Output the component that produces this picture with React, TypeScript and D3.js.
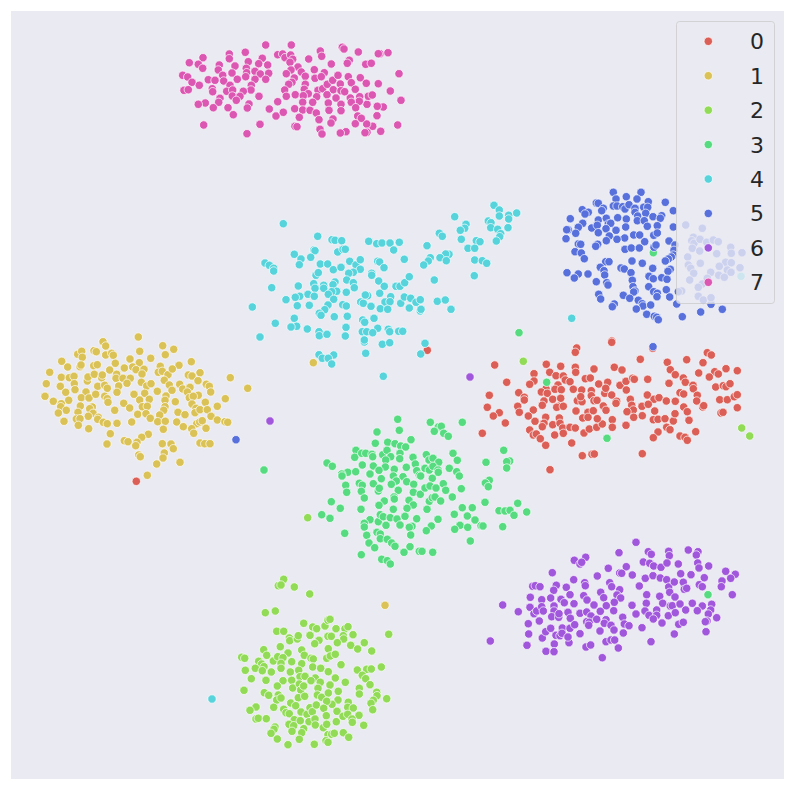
import React from 'react';
import * as d3 from 'd3';

type Pt = [number, number];

// values, the plot has no axes so the units are arbitrary
const class0: Pt[] = [
  [576.7,348],[575.3,352.3],[611.7,341],[611.7,342.3],[652.7,348.3],[494.7,365],[546.3,364.3],[560.7,366.3],[575.3,367.3],[575.7,372.3],[594,369],[614.3,367.3],[622,370],[640.3,359.3],[667.3,362.3],[670.3,369.7],[675.3,374.7],[686.7,359.7],[707.3,352.7],[711.3,355],[703,362.7],[698.7,373],[714.7,371.7],[718.3,374],[709.3,377],[726,368.7],[737.3,370.7],
  [534,373.7],[534,381],[529.7,384.3],[549.7,372.3],[556,375.7],[563.3,376],[565.3,380],[570,381.7],[558,385],[555,389.3],[561.3,389.7],[546,388.7],[541.3,392],[547.3,393.3],[506.7,382.3],[518.7,392.7],[524.3,397.3],[524.3,400],[489.3,395.3],[487.3,407.3],[517.7,406.3],[519.3,412.3],[499.3,412.7],[493.3,416],[505.3,423],[482.3,433.3],
  [552.7,399.3],[560.7,398.3],[544,401],[542.3,405.3],[533.3,410],[528.3,416],[558.3,406.3],[556.7,407.3],[563.3,406.3],[535,421.3],[545.7,417.3],[544,423.3],[542.3,426.7],[552.7,424.7],[559.3,418],[560,423.3],[529.7,430],[533.3,435],[536.3,434],[540.3,438.7],[545.7,445.3],[554.7,435],[562.7,428],[563.3,433.3],[570,427.3],[575.3,428],[571.7,443],[584,433],[589.3,429],[596.7,427.3],[602.3,424],[612.3,419.7],[612.3,427.3],[626,425.3],[582.3,455.7],[592,454.3],[594.3,454],[642.3,453.7],[550,469.7],
  [585.3,378.7],[590.3,378],[598.7,384],[607.7,382.3],[573.3,389.3],[581.7,390],[591.3,390.7],[591.3,395.7],[604.7,393.3],[605.7,388.3],[611.7,395],[577.3,400.7],[582,401.7],[580.7,396.7],[594,400.7],[597,400.3],[576,411],[588,412.3],[593.3,410.7],[582.7,418],[588,417.3],[597.3,418.7],[603.3,406],[606,410.3],[616.7,401.3],[616,403.3],[620,385.3],[626,381.3],[626.3,390],[632.7,378.3],[634.3,379.3],[647.7,379.3],[669,383.3],[683.3,378],[685.3,382.3],[693,385.3],[693.3,388.7],
  [647.3,395],[654,399.3],[659,397.7],[630.3,399.3],[631.7,405.3],[633.3,410],[627,411.7],[633.7,417.3],[642,406.3],[648.3,404.3],[642.3,415.7],[654.7,411],[653.3,419.7],[658,419.3],[665,418.7],[673.3,421],[675,413.7],[666.3,401],[675.3,401.3],[680,392.7],[683.7,394],[683.7,407],[687.3,411.7],[689,420.3],[697.3,395.3],[696.7,401],[702.7,407],[703.7,405.7],[666.7,427.3],[670,429.7],[658,432],[653.3,437.7],[680,436],[685,437.3],[687.3,440.3],[695.7,431.7],[715.7,387],[723.3,385.7],[726,386.7],[730,383.7],[719.7,399.7],[727.3,399.7],[734.3,396.7],[737.3,394.7],[737.3,407.7],[721,413],[723,412.3],
  [427.3,350.3],[136.3,481.3],
];

const class1: Pt[] = [
  [103,341.7],[105.7,346],[138.3,337],[162.7,345.7],[173.7,349.3],[139.7,351.3],[165.3,354.7],[150.7,358.3],[130,359],[139.3,362.7],[191.3,361.7],[77.7,354.3],[81.7,351.3],[82.3,357.3],[94,350.7],[96.3,351.7],[105.7,355],[111.7,353.3],[113.3,355.3],[61.7,361.3],[67.7,367],[49.7,372.3],[80,366.7],[81,365],[93.7,365.7],[97.3,364.7],[115.3,363.3],[109.7,370],[124.3,368],[132.7,367],[136,369.7],[144,369.3],[142,374],[160.3,366.3],[158.3,372.3],[162.3,371.3],[168,374.7],[179,365.3],[172.3,369],[200,372.7],[188.3,375],[192,376],[198,380.7],[230.3,377.7],[247.7,388.3],
  [61.3,377.3],[69.3,377.7],[74,376.3],[46.3,383.7],[60.3,386.3],[74.3,383.7],[75,389.7],[65.7,392.3],[87.3,381],[88,377],[94.3,374.3],[101.7,377.7],[102.3,375],[97.7,386.3],[104.7,385.3],[107.3,388.3],[116.7,374.3],[116,378.3],[123,378.3],[130.3,378.3],[118.7,386],[127,383.3],[117,392.3],[141.3,382.3],[146.7,386],[151,383.7],[164.3,380.3],[169.3,385],[172,390.3],[157.3,391.3],[179.7,384.3],[182.7,389],[190,387.3],[187.3,392],[206.3,384.3],[209.3,386.3],[210.7,392],[198.3,395.3],
  [45,396.3],[53.3,401.3],[68.7,400.3],[61.3,403.7],[60.7,406.7],[66.3,410.3],[58.3,413],[64,421.3],[86,392],[81.3,397.7],[89,398],[95.7,394.3],[104.7,396.3],[107.3,398.7],[108,402.3],[80.3,406],[92.3,407],[89.7,408.7],[78,412.3],[93,413.3],[88.3,416.3],[76.3,419],[80,418.7],[78.3,425.3],[88.7,428.7],[98.3,417.3],[97.7,419.3],[103.3,422.3],[107.3,423.7],[117,423.3],[114.7,410.3],[123.7,403.3],[129.7,408],[134,394.3],[144.7,393.3],[139.7,400],[149.3,399.3],[142.3,406.7],[147.3,406.3],[137.7,414.3],[146,413.7],[150.3,418.3],[131.7,422],
  [166,396],[165,400.3],[165,406.7],[163.7,410.3],[159.7,415],[157.7,421.7],[165.3,421.3],[163.3,429.3],[175.3,401.7],[178,412.3],[185,414.7],[176.7,422],[183.3,426.7],[189.3,397.7],[193.3,396.3],[192,404],[196,408.3],[195,412.7],[200,409.7],[205.3,402.3],[207.3,409.7],[217.3,406.3],[225.3,398.7],[211,416.3],[217.3,420],[225,421.7],[227.7,422.3],[196.7,423.7],[199.7,422],[202.3,420.7],[191.7,428.7],[193.7,433.3],[206,428.3],
  [110.3,433.7],[107,444],[148.3,434.3],[141.7,437.3],[124.3,440.7],[128,441.7],[137,442.3],[135.7,445.7],[162.3,443.7],[171,444],[173.3,448.7],[164.3,453],[163,458],[138.7,455],[140.3,456.7],[156.7,464],[180,462.3],[147.3,475.3],[200,443],[204.7,443.7],[210,443.7],
  [313.3,362.7],[385,605.3],
];

const class2: Pt[] = [
  [283.7,579.3],[278.3,585.7],[281,585],[294.3,587],[309.7,594],[265.3,612.7],[275.3,611],[388.7,634.3],[303.7,623.3],[312.7,627],[316.7,628.7],[325,626],[328,620.3],[330,619.3],[336,628.7],[345,628.7],[348,626.7],[353,634.7],[343.3,635.7],[343.7,639],[328,636.3],[331.3,636.3],[337.3,642.7],[350.7,645.3],[357.7,649],[364.3,642.7],[371.7,651],[276.7,631.3],[283.7,631.3],[289.3,638],[289.7,640.7],[297.3,639],[298.3,635.7],[310,635.3],[319,640.3],[314.7,643.7],[328.3,648.7],[280.3,646.7],[301.7,650],[263.7,649.7],[288,653],[266.7,655.3],[304.3,655.3],[311,658.3],[313.3,659],[326.7,658.3],[330.3,656],[335.3,654.3],
  [241.7,657.3],[244.7,658.3],[258.7,661.3],[261.7,664],[264,666.7],[273.3,661],[277.7,656.7],[283,657.7],[281,663.3],[281,668.3],[291.7,661.7],[301.7,663.7],[341,664.7],[255.3,668.3],[245.3,670.3],[262.3,670.7],[271.3,672],[290.3,672],[298.7,670.3],[312.7,667],[320.7,668.3],[328.3,671.7],[357.3,670],[366.7,669.3],[371.3,669],[381.3,667],[251.3,678.7],[266,680.3],[283,680.7],[291.7,680.3],[300,676.7],[305,676.3],[315.3,678],[311,680.7],[320.3,682.3],[335.3,678],[362.3,675.3],[365.7,678.7],[345.3,682.3],[370,684.7],[277.3,686],[292.7,688],[299.3,684],[300.7,690],[303.7,686],[330,685],[318,688.3],
  [244,690.3],[264.3,692.7],[268.7,695.3],[278.3,695],[276.7,700],[281,698],[298.3,697.7],[304.7,696.3],[317.3,695],[321.7,697.3],[328.3,693],[338.3,691.3],[338,700],[332,704.3],[326.7,701.3],[359.3,688.3],[359.3,694],[376.7,692.3],[377,695.7],[386.7,698.7],[373.3,700.3],[371,703.3],[372.7,709.7],[348.3,702.3],[347.7,707.3],[353.3,708],[273.7,707.3],[256,707],[250,710.3],[290.7,703],[295.7,705.7],[283.7,709.3],[286,712.7],[289.3,713.7],[301,712],[307,714.3],[310,707.7],[312.3,711.7],[316.3,705],[323.7,708.3],[337,711.3],[326.3,715.7],[343,716.3],[347.7,714.3],[359,715.3],[352,719],[352.3,722.3],[336.3,721.7],[363.7,725.3],
  [256,719],[258.3,718.3],[266.3,718.7],[294.3,719.7],[300.3,720.7],[309,721.7],[315,719],[289,724.3],[293.7,725.7],[315.3,725],[323.3,727.7],[326.7,724.3],[275,727],[274,729.3],[271,733.3],[292,731.3],[303.7,728.7],[301.7,732.7],[277.3,739],[288,744.7],[299.3,739.3],[314.3,744.3],[328,734.7],[331.7,734.3],[334.3,733.3],[343.3,732.7],[348.7,737.3],[326,740.7],[328,742.3],
  [307.7,517.7],[523.3,361.3],[741.7,428],[749.7,436],
];

const class3: Pt[] = [
  [397.7,419.3],[430.3,422.3],[462.3,422.3],[438.3,427],[441.3,426.3],[434.3,431.3],[443.7,433.3],[448.3,436.3],[399.3,430.3],[377,432],[411,439.7],[375.3,443.3],[387.7,442.3],[395,443.7],[400.7,446],[405.7,447],[356,450.3],[354.7,457.3],[361.7,453.3],[365.7,453.3],[372,454.3],[372.7,456.7],[382.7,454.7],[387,450.3],[390.7,456.7],[400,453.3],[399.7,458.7],[385.7,460],[385.3,467],[413,457.3],[415.3,464],[426.3,454.7],[429,460],[433,458.3],[438.7,462.3],[453,453.3],[457.3,460.3],[327,463],[332.3,466.3],[362.3,465],[373.3,466],[379,470.3],[347.7,472.3],[355.7,471.7],[341.7,474],[342,476],[370,474],[394.3,469.3],[406.3,467.3],[416.7,470.7],[425,468.3],[429.3,470],[433,466.3],[438,470],[438.3,472.3],[449.3,468.3],[456.7,471.7],[459.3,476],[393.3,476],[403,476.7],[419.3,475.3],[420.7,476],[432.3,478.3],[486,462.3],[503.7,450.3],[509.7,461],[506.7,461.7],[506.7,468],
  [381.3,478.7],[373.3,483.7],[359.3,483.3],[362.3,485.3],[345.7,485.3],[346.7,492.3],[396.3,481],[391.3,484.3],[406.7,481.7],[413.7,484.3],[378.3,491],[379.3,488.3],[361.3,491.3],[364.3,498],[398.3,490.3],[413.3,492.3],[420.3,494.3],[425,488],[430,486],[436,488],[443.3,483.7],[445.7,490.3],[461.3,488.7],[452.3,497],[489.3,480.3],[485.3,483],[488.3,486.7],[384.3,501],[394,497],[394.3,499],[409,500.3],[413.3,505],[407,508.3],[429.3,501.3],[432.3,497.7],[435,497],[440.7,501],[485,502.3],[331.3,501.7],[340.3,508.3],[321.7,514.7],[330,518.3],[361,509.3],[379,505.3],[393.3,509.3],[427,509.3],[517.7,503.3],[462.3,507.7],[472.3,507.7],[454.3,514.3],[467.3,516],[475,520],[499,510.7],[505,511],[510,510.3],[514,515.3],[526.7,512],
  [370,519.7],[364.3,523.3],[364.3,527],[378.3,521.7],[380.3,514.7],[383.3,516.7],[390.3,517.7],[397,519],[405,516.3],[386,525.3],[400,525],[416.7,518.7],[438,519.3],[412,526.3],[409.3,527.3],[431.3,526],[426.3,530.7],[410.7,535],[344.7,533.3],[460,525.3],[454.7,529.3],[467.7,527.3],[481,525.7],[483,526],[502.7,526.7],[470.3,541],[366.7,535.3],[377,532.3],[380.3,534],[380.3,538.7],[387.3,539.3],[391.7,543],[395,546.3],[369,543],[374.7,547.7],[410,546.7],[404,552.3],[419.3,551.3],[422,551.3],[432.7,552.3],[361.3,554.7],[381.7,559.3],[387.3,560.7],[390.3,564],
  [519,332.7],[607,438.3],[546.7,382.3],[708,594.7],[264,470],[653.3,252.7],
];

const class4: Pt[] = [
  [283.3,223.7],[317.7,236.3],[332,239.7],[335,240.3],[341.7,240.7],[368.7,241.3],[376.7,243.7],[382,243],[390,243],[399.3,242.3],[393.7,250],[314,250],[315,250.7],[337.7,252],[343,249.3],[345.3,249.3],[294.3,254.3],[301,259],[310.7,257.3],[299.3,264.7],[320.3,264],[327.7,264],[333.3,269.7],[341,267.3],[349.7,261.3],[356,265],[360.3,259.7],[360.3,269.3],[353.3,272.3],[348.7,273.3],[377.7,261.3],[379.7,262],[384,267.7],[371.7,273.3],[371.7,275.3],[404.3,259.3],[265,263],[269.3,265.3],[273.7,268.3],[273.7,271],[316,275.3],[318.3,272.7],[346.7,280],[353.3,282.7],[354.3,287.7],[335,282],[333,284.7],[313.7,283.7],[323.7,285.3],[323.7,288.3],[315,288.3],[298.3,286],[271.7,287.7],
  [336.7,291.3],[331.7,291.7],[328.3,294.3],[346.3,292.3],[308,294.3],[314.3,296.3],[299.7,296.3],[295.3,297.3],[286,299.7],[333.7,299.3],[297.3,305.7],[309.3,305.3],[328,305],[324.7,309.7],[319.3,313.3],[321,315.3],[342.7,304.7],[346.3,306],[334.3,316.7],[347.3,316.3],[252.3,307],[294.3,318.3],[275.3,323.3],[296.7,326.3],[291,327],[307.3,329],[319,331.7],[319.3,335.7],[327,334.3],[346,327.3],[345.3,336],[260,337],[360.7,302],[363.3,303.3],[371,306.3],[367.7,295.7],[365.3,295],[379.7,293.3],[378.7,281],[384.3,286.3],[396,286.3],[400,286.3],[404.7,282.7],[409.3,276.7],[434.3,280],[390.7,296.7],[385,302],[390,301.7],[380.3,308.7],[387.7,309.3],[400.7,303.3],[404.3,297],[410.7,298.3],[409.3,308],[416,302.3],[420.3,299.7],[420.3,311],[421,309.3],[437.3,301.3],[445.3,300],[451,309.3],
  [374,318.3],[362.7,320],[364.7,322.3],[377.7,328.3],[362.3,331.7],[366.7,331.7],[372.7,332.7],[388.3,329.3],[389.7,331.7],[398.7,331.3],[402.7,331.3],[364.3,342],[364.3,340],[382.3,344.3],[389.7,342.7],[425,343.3],[420.7,354],[365.7,353.3],[319,354.7],[322.3,358.3],[333.7,355],[328.3,358.3],[331.7,364],[383.3,376.3],
  [427,245.7],[439.3,233.3],[442.3,236.3],[454.7,216.7],[466,224.3],[464.7,228.3],[460.3,230.3],[461.3,239.3],[476.3,240.7],[480,241.7],[468,248.3],[474.7,248.3],[449,254.3],[445.7,254],[440,257.7],[446.3,260.7],[430.3,257.7],[428.3,261],[423.7,265],[474.7,260],[482.3,260.7],[486.7,263.3],[474.3,275.7],[494,205.3],[499.3,210],[499.3,216],[508.7,215.3],[508.7,219],[516.7,213],[488.3,221],[491,222.7],[490.7,227.7],[497.7,229.3],[500.7,233.7],[499.7,236.7],[508,227.7],[496.3,241],
  [741,276.3],[571.7,318.3],[212,699],
];

const class5: Pt[] = [
  [613.3,192.3],[641,192.3],[626.3,196.7],[616,199],[637,199],[665.3,202.3],[648.3,201.7],[596.3,203],[598.3,203.3],[613.3,206],[617,206],[622.7,206.7],[625,209],[629,204.7],[635,208.3],[643.7,207.3],[647.7,207.3],[603.3,208.3],[601.7,210.7],[582.3,209.7],[588.3,212.3],[585,214],[673.3,210.7],[570.3,218.7],[635,212.3],[637.7,216],[645.7,213.3],[617.7,217.7],[626.3,219],[598.3,220],[606.3,218.3],[653,216.7],[661.7,215.7],[660.3,218.3],[637.3,220.7],[644.3,220.7],[647.3,226.3],[657.3,225.7],[582.7,223.3],[578.3,227.3],[591.7,228],[597.3,225.3],[608.3,224],[610.7,223.3],[606,228.7],[625.7,227],[616,230.3],[673.3,227],[568.3,229.7],[566.7,229.7],[575.7,233.3],[598.3,232.7],[609.3,236],[633.7,235],[639.7,235],[653.7,235.3],[657.3,233],[566,238.7],[624.7,238],[617,239.3],[606.3,240.7],[644.7,241.7],[669,241],
  [578.3,244],[580.7,244.3],[597.7,244.3],[595.7,246.3],[654,247.3],[656,245],[675,245],[625,249.3],[631.3,248],[639.3,248],[575,251.7],[581.3,253],[584.3,258.7],[674,250.3],[673.3,255],[671.3,257],[668.3,259],[665.3,261],[605.7,261.7],[609,261.7],[632,261],[642.3,263.3],[600.3,267.3],[604,270.7],[604.7,275],[621,268],[624.3,269],[631,272.7],[652.7,268.3],[670.3,269.3],[668,271.3],[567,272.7],[578.3,274],[574.3,278],[588,274],[649,276.3],[653.3,278.7],[661.7,277.7],[667,279.3],[632.3,280.3],[596.3,281.7],[606.7,282.7],[608,285],[633,286.7],[635,291],[633.7,292],[648.7,286.7],[653.7,291.7],[657.3,293.3],[657,296.7],[666.3,289.7],[669.7,297],[623.3,295.3],[629.7,298.3],[598.7,294.3],[600.7,299],[638.3,300.3],[642.3,303.7],[643,306],[650.7,305],[614.3,304],[612.3,306.7],[636.3,309],[676.7,304],[646.7,314.3],[654.3,316.3],[656.7,317.3],[658.3,319.7],
  [682.3,316.7],[700.7,312],[722.3,309.3],[711,304.3],
  [685.7,225],[702.3,228.3],[693.3,237.3],[691.7,240.7],[694,243.3],[700,239.3],[706.7,242.3],[713.3,240],[718.3,241.7],[692.3,248.3],[699.7,251],[730.7,247.3],[731.3,253.3],[742,252.7],[716.7,253.7],[687.7,257],[700.3,263.3],[725.7,262.3],[731.3,262.7],[719.3,266.3],[727.3,270],[740,267.7],[731,272.3],[688.3,265],[690.7,268.3],[693.7,273.3],[710.7,272.3],[718.7,275.3],[724.3,277.3],[689.7,280],[707.3,278.3],[702.3,284],[698.3,287.3],[681.7,291],[678.3,291.7],[698.3,296.3],[703.3,300],[711,297.7],
  [236,439.7],[653,346.7],
];

const class6: Pt[] = [
  [636,542.3],[619,552.7],[648.3,551.7],[651.3,554.3],[668.7,551.3],[669.3,555.7],[688.3,550],[698,551.7],[696.3,555],[585.7,557.3],[574.3,560.3],[580,564],[581.7,562.3],[643.3,562],[649.7,563.3],[653.7,566],[661,567.3],[667,563],[678.3,564],[697.7,563],[699,568],[708.7,566],[608.3,568.3],[626.3,566.7],[619.7,573],[621.7,573.3],[632.3,575],[552.3,572.7],[573.7,579.7],[597.3,576],[645.3,578.3],[653,575.7],[660.3,578],[666.7,579.7],[680.7,573.7],[691,574.7],[704.3,577.7],[725.7,571.3],[735.3,574.3],[730.7,578.3],[722,581],[721.3,586.7],[732.3,594.7],
  [532.7,586.3],[535.3,585.7],[540,586.7],[556.3,585.3],[553.7,590.3],[566.3,587.3],[584.7,582.7],[585.3,585.7],[609.7,582.7],[611.7,586.7],[639.3,586],[668.7,587],[674.3,582],[683.3,582.3],[684.3,589.3],[686.7,588.3],[699.3,584.7],[702.3,586.7],[530.3,597.3],[541.7,599.7],[550.7,598],[570,594.7],[561,599.3],[564.3,602.7],[574,603.7],[583.7,595.7],[587,600],[600.7,592.3],[603.7,597.7],[606.3,605.7],[619.7,589.7],[617,595],[620.7,598],[614.3,602.3],[646.7,594.7],[659.7,596.3],[669.7,592.3],[675,597],[646.3,603.3],[662.7,603.3],[670.3,606],[672.3,605.7],[680,604],[692.3,603.3],[685.7,610],[711.7,604.3],[702.3,606],[697.3,610.7],[710.7,610],[708.3,614],
  [502.7,605],[518.3,611.7],[530,607.3],[534,613.7],[536.7,611],[541.7,606.7],[543.3,611],[554,606],[554,611],[551.7,616.7],[558.7,617.3],[559,613.7],[568,612.3],[570.3,618.3],[580,613.3],[586.7,612],[594,605],[600.3,611.3],[591,616],[613.7,610.7],[622.7,617.3],[632,605.3],[636,614],[645,611],[649,615.3],[656.7,610],[656.7,615.3],[653.3,619],[668.3,615.7],[675.3,612.7],[662,623],[678.7,624.3],[683.3,622.3],[716.7,617.7],[707,621],[705.3,621.7],
  [528.3,623.7],[539.3,621],[528.7,634],[542.3,638],[545.7,631.7],[550.7,628.3],[527,645.3],[554.3,644],[546,651.3],[554,651.7],[569,642.7],[490.3,641],[562.3,628],[570,628.3],[574.7,624.7],[556,635.3],[560,635.7],[562,633.3],[568,637],[580,633.7],[586.7,621.7],[589.3,622.3],[588.7,625.3],[596.7,619.3],[606,619.7],[604.3,623.3],[600,631],[611,625.3],[614,630],[623.3,633],[624.3,624],[629,625.7],[642,627.7],[586,647],[590.7,645],[606,641.7],[611,640],[614.7,640],[618.3,648],[602.3,657.7],[651,641.7],[674.3,634],[706,631.7],
  [470,377],[270,421],
];

const class7: Pt[] = [
  [265.7,45],[291.3,45],[203,57.7],[189.3,62.7],[198.3,64.3],[202.7,68.3],[182.7,75.3],[187.7,77],[192,82.3],[199.3,85.3],[184,90.3],[188.3,89.7],[208.3,79.7],[215,80.3],[219.3,65],[218.3,70],[222.7,75.3],[223.7,81],[212.3,88.7],[212.7,91.7],[229.3,54],[229.3,58.7],[245.3,52.3],[248.3,61.7],[235,66],[232,73],[237.3,79.3],[246.3,68.3],[246.7,72.7],[245.7,76.7],[262.3,58.3],[258.7,63.7],[267.7,65],[255,71.3],[260.3,74],[268.7,73.3],[255,79.3],[265.7,79.3],[251.3,85.3],[251,90],[230,85.3],[226.7,91.3],[232.7,90],[232.3,96],[243.3,91.3],[240,96.3],[236.3,100.3],[220,98.3],[218.7,102.3],[205.3,103],[198.3,104.3],[213.3,107.7],[228,107.7],[233.3,114.7],[249,104],[247.3,108],[259,96.3],[203.7,125],[247,133.7],[260,124.3],[269.3,109],
  [277.7,101.7],[276,116],[283.3,112.3],[277.7,54.7],[282.7,54],[285,57.7],[290.7,55],[292.7,59.3],[290,62.3],[298,67],[291,70],[286.3,73.7],[301.3,72],[305.3,76.3],[294.3,78],[292,82.3],[288.7,84.3],[305.3,84.3],[284.7,90],[286.3,96.3],[295.3,94.7],[304.3,89.3],[308.3,93.7],[303.3,95.7],[302.7,102.3],[294.7,108.7],[302.7,110],[310,110.3],[299.3,117.3],[308.7,59],[320.3,51],[321.7,56.3],[314.3,69.7],[324.3,72.7],[315,78.3],[321.3,76.7],[318,90.3],[322.7,88.7],[316.7,96.7],[327.3,84.3],[332.7,80.3],[338,75.3],[331.3,64],[342.3,47.3],[344,49],[349.3,60.3],[347.3,63.3],[358.3,52],[380,53.7],[378.3,53.7],[388,52.7],[365.7,64.3],[371.3,63.3],
  [348.3,76.7],[360.3,77.7],[340.3,84],[351.3,82.7],[355.3,89.3],[366.3,83.3],[378.3,83.7],[399,73.7],[390.3,91],[401,100.3],[397.7,125],[380.7,131.3],[372.7,126.3],[366.7,124],[377,115.7],[383.3,107],[377.3,106.3],[367,104.3],[368.3,96.3],[372.3,95],[359.7,96.7],[359.3,101.3],[350.3,98],[351.3,102.3],[333.3,89.7],[327,94.7],[341,90.7],[344.7,91.7],[336,98],[341,104.3],[341,110.7],[328.3,103],[329,110.3],[312.7,102.3],[316.3,113],[319,119.7],[333,119],[331,123],[355.7,107.7],[357.7,116],[361.3,118.3],[355.3,123.7],[320,129.3],[322,134],[295,126.3],[297,126.7],[346,131.7],[340.3,133],[367,132.3],[365,132.7],
];

const classes = [class0, class1, class2, class3, class4, class5, class6, class7];
const labels = ['0', '1', '2', '3', '4', '5', '6', '7'];
const palette = ['#db5f57', '#dbc257', '#91db57', '#57db80', '#57d3db', '#5770db', '#a157db', '#db57b2'];

const width = 794;
const height = 790;
const plot = { left: 11, right: 784, top: 11, bottom: 779 };

const x = d3.scaleLinear().domain([11, 784]).range([plot.left, plot.right]);
const y = d3.scaleLinear().domain([11, 779]).range([plot.top, plot.bottom]);
const colour = d3.scaleOrdinal<string, string>().domain(labels).range(palette);

const Legend = () => {
  const rowY = d3.scalePoint().domain(labels).range([41.3, 282.3]);
  return (
    <g>
      <rect x={676.5} y={21.5} width={98} height={282} rx={3} fill="#eaeaf2" fillOpacity={0.8} stroke="#cccccc" strokeOpacity={0.8} />
      {labels.map((l) => (
        <g key={l}>
          <circle cx={708.3} cy={rowY(l)} r={4.2} fill={colour(l)} stroke="#ffffff" strokeWidth={0.7} />
          <text x={750} y={(rowY(l) as number) + 8} fontSize={22} fontFamily="DejaVu Sans" fill="#262626">{l}</text>
        </g>
      ))}
    </g>
  );
};

export default function App() {
  return (
    <svg width={width} height={height} style={{ position: 'absolute', left: 0, top: 0 }}>
      <rect x={plot.left} y={plot.top} width={plot.right - plot.left} height={plot.bottom - plot.top} fill="#eaeaf2" />
      {classes.map((pts, i) => (
        <g key={labels[i]}>
          {pts.map((d, j) => (
            <circle key={j} cx={x(d[0])} cy={y(d[1])} r={4.2} fill={colour(labels[i])} stroke="#ffffff" strokeWidth={0.7} />
          ))}
        </g>
      ))}
      <Legend />
    </svg>
  );
}
